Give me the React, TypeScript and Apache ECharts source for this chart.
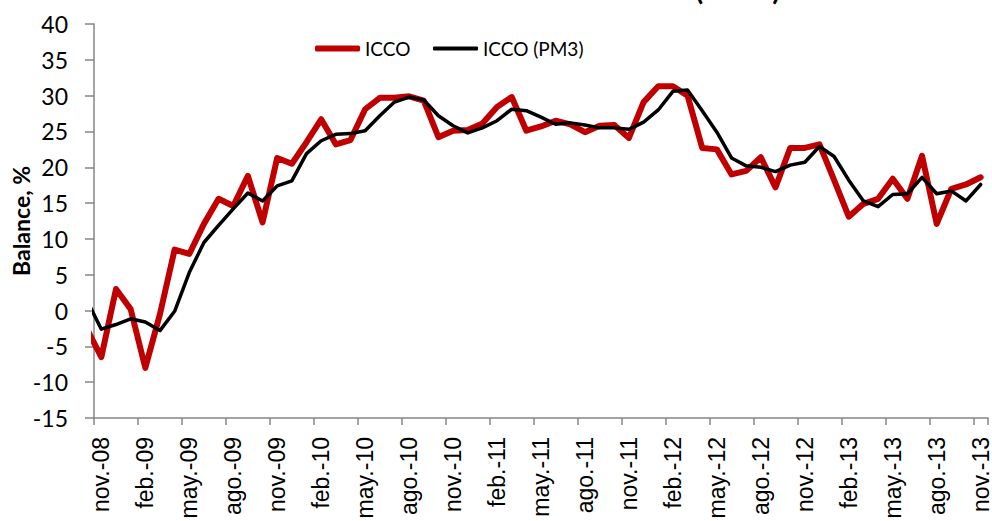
import React, { useEffect, useRef } from "react";
import * as echarts from "echarts";

const TITLE = "Índice de Confianza del Consumidor (ICCO)";
const Y_NAME = "Balance, %";
const SERIES_NAMES = ["ICCO", "ICCO (PM3)"];

// categories nov.-08 ... nov.-13
const categories = [
  "nov.-08", "dic.-08", "ene.-09", "feb.-09", "mar.-09", "abr.-09", "may.-09", "jun.-09", "jul.-09", "ago.-09", "sep.-09", "oct.-09",
  "nov.-09", "dic.-09", "ene.-10", "feb.-10", "mar.-10", "abr.-10", "may.-10", "jun.-10", "jul.-10", "ago.-10", "sep.-10", "oct.-10",
  "nov.-10", "dic.-10", "ene.-11", "feb.-11", "mar.-11", "abr.-11", "may.-11", "jun.-11", "jul.-11", "ago.-11", "sep.-11", "oct.-11",
  "nov.-11", "dic.-11", "ene.-12", "feb.-12", "mar.-12", "abr.-12", "may.-12", "jun.-12", "jul.-12", "ago.-12", "sep.-12", "oct.-12",
  "nov.-12", "dic.-12", "ene.-13", "feb.-13", "mar.-13", "abr.-13", "may.-13", "jun.-13", "jul.-13", "ago.-13", "sep.-13", "oct.-13",
  "nov.-13",
];

// value of oct.-08 (drawn just left of the plot, clipped)
const iccoPrev = -2.5;
const pm3Prev = 1.5;

const icco = [
  -6.5, 3.0, 0.2, -8.0, -0.5, 8.5, 7.9, 12.1, 15.6, 14.6, 18.8, 12.3,
  21.3, 20.5, 23.5, 26.7, 23.2, 23.8, 28.1, 29.7, 29.7, 29.9, 29.3, 24.2,
  25.1, 25.2, 26.1, 28.4, 29.8, 25.1, 25.7, 26.5, 26.0, 24.9, 25.8, 25.9,
  24.1, 29.1, 31.3, 31.3, 30.0, 22.7, 22.5, 19.0, 19.5, 21.4, 17.2, 22.7,
  22.7, 23.2, 18.2, 13.1, 14.9, 15.6, 18.4, 15.6, 21.6, 12.1, 17.0, 17.6,
  18.6,
];

const pm3 = [
  -2.6, -1.95, -1.15, -1.6, -2.8, -0.1, 5.3, 9.5, 11.9, 14.2, 16.4, 15.3,
  17.4, 18.1, 21.9, 23.7, 24.6, 24.7, 25.1, 27.2, 29.1, 29.8, 29.4, 27.2,
  25.8, 24.8, 25.5, 26.5, 28.1, 27.9, 27.0, 26.0, 26.2, 25.9, 25.5, 25.5,
  25.3, 26.3, 28.0, 30.6, 30.8, 27.9, 24.9, 21.3, 20.2, 20.0, 19.4, 20.3,
  20.7, 22.9, 21.5, 18.2, 15.3, 14.5, 16.2, 16.3, 18.6, 16.3, 16.7, 15.3,
  17.6,
];

const toPairs = (prev: number, arr: number[]) => [[-1, prev], ...arr.map((v, i) => [i, v])];

const RED = "#C00000";
const BLACK = "#000000";

export default function App() {
  const ref = useRef<HTMLDivElement>(null);
  useEffect(() => {
    document.body.style.margin = "0";
    if (!ref.current) return;
    const chart = echarts.init(ref.current, undefined, { renderer: "svg" });
    const axisGray = "#868686";
    const legendText = { fontFamily: "Lato", fontSize: 19, color: "#000" };
    chart.setOption({
      animation: false,
      backgroundColor: "#ffffff",
      title: {
        text: TITLE,
        left: 222,
        top: -31,
        textStyle: { fontFamily: "Lato", fontWeight: "bold", fontSize: 29, color: "#000" },
      },
      legend: [
        {
          left: 310,
          top: 34,
          itemWidth: 45,
          itemHeight: 6,
          icon: "roundRect",
          data: [SERIES_NAMES[0]],
          textStyle: legendText,
        },
        {
          left: 428,
          top: 34,
          itemWidth: 45,
          itemHeight: 4,
          icon: "roundRect",
          data: [SERIES_NAMES[1]],
          textStyle: legendText,
        },
      ],
      grid: {
        left: 94,
        right: 4,
        top: 24,
        bottom: 103,
        containLabel: false,
        outerBoundsMode: "none",
      },
      xAxis: [
        { type: "value", min: -0.5, max: 60.5, show: false },
        {
          type: "category",
          data: categories,
          boundaryGap: true,
          position: "bottom",
          axisLine: { show: true, onZero: true, lineStyle: { color: axisGray, width: 1.5 } },
          axisTick: { show: true, interval: 2, length: 7, lineStyle: { color: axisGray, width: 1.5 } },
          axisLabel: { show: false },
          splitLine: { show: false },
        },
        {
          type: "category",
          data: categories,
          boundaryGap: true,
          position: "bottom",
          axisLine: { show: false, onZero: false },
          axisTick: { show: false },
          splitLine: { show: false },
          axisLabel: {
            interval: 2,
            rotate: 90,
            margin: 19,
            fontFamily: "Liberation Sans",
            fontSize: 23,
            lineHeight: 18,
            color: "#000",
          },
        },
      ],
      yAxis: {
        type: "value",
        min: -15,
        max: 40,
        interval: 5,
        axisLine: { show: true, onZero: false, lineStyle: { color: axisGray, width: 1.5 } },
        axisTick: { show: true, length: 9, lineStyle: { color: axisGray, width: 1.5 } },
        splitLine: { show: false },
        axisLabel: { fontFamily: "Lato", fontSize: 23, color: "#000", margin: 26 },
        name: Y_NAME,
        nameLocation: "middle",
        nameGap: 62,
        nameMoveOverlap: false,
        nameTextStyle: { fontFamily: "Lato", fontWeight: "bold", fontSize: 23, color: "#000" },
      },
      series: [
        {
          name: SERIES_NAMES[0],
          type: "line",
          xAxisIndex: 0,
          data: toPairs(iccoPrev, icco),
          symbol: "none",
          clip: true,
          color: RED,
          itemStyle: { color: RED },
          lineStyle: { color: RED, width: 6, join: "round", cap: "round" },
          z: 2,
        },
        {
          name: SERIES_NAMES[1],
          type: "line",
          xAxisIndex: 0,
          data: toPairs(pm3Prev, pm3),
          symbol: "none",
          clip: true,
          color: BLACK,
          itemStyle: { color: BLACK },
          lineStyle: { color: BLACK, width: 3.5, join: "round", cap: "round" },
          z: 3,
        },
      ],
    });
    return () => chart.dispose();
  }, []);
  return <div ref={ref} style={{ width: 992, height: 521 }} />;
}
